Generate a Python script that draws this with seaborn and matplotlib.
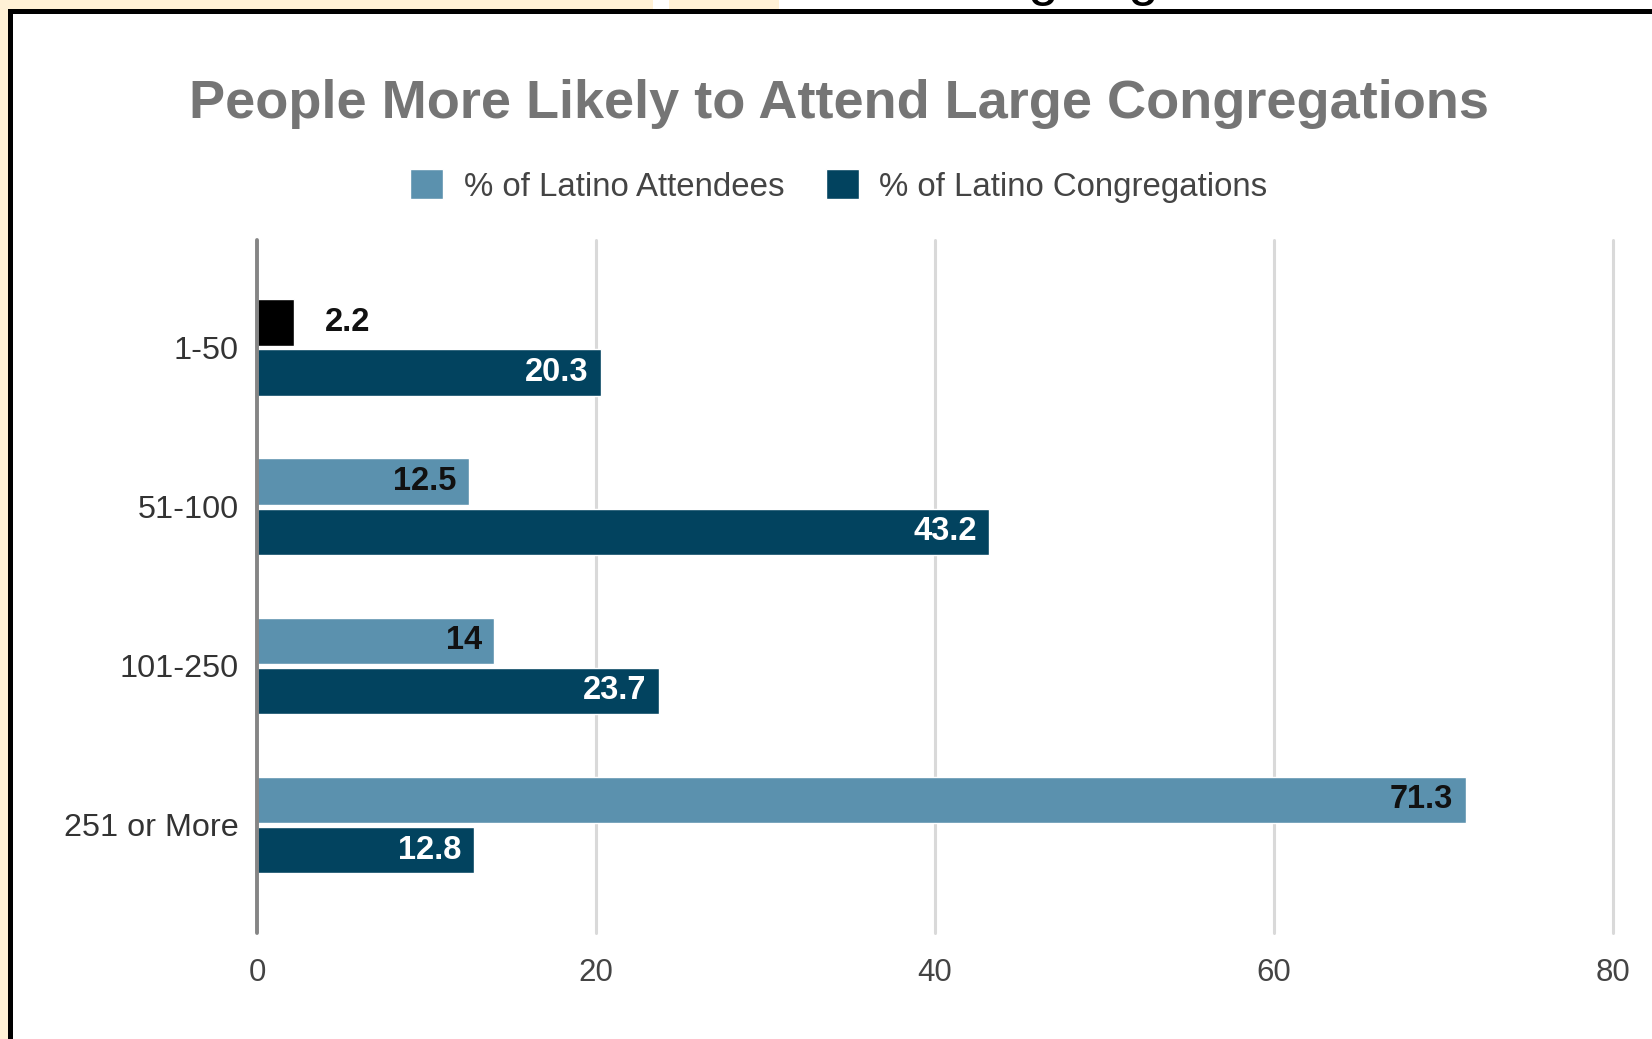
import numpy as np
import pandas as pd
import matplotlib.pyplot as plt
import seaborn as sns
from matplotlib.patches import Rectangle, Patch

sizes = ['1-50', '51-100', '101-250', '251 or More']
attendees = [2.2, 12.5, 14, 71.3]
congregations = [20.3, 43.2, 23.7, 12.8]
series_names = ['% of Latino Attendees', '% of Latino Congregations']
x_ticks = [0, 20, 40, 60, 80]

light_blue = '#5b91ae'
dark_blue = '#02435f'
W, H = 1652, 1039

sns.set_theme(style='white')
plt.rcParams['font.family'] = ['Liberation Sans', 'DejaVu Sans']

df = pd.DataFrame({
    'size': sizes * 2,
    'value': attendees + congregations,
    'series': [series_names[0]] * len(sizes) + [series_names[1]] * len(sizes),
})

fig = plt.figure(figsize=(W / 100, H / 100), dpi=100)
fig.patch.set_facecolor('white')


def px_rect(x0, y0, x1, y1, color):
    fig.patches.append(Rectangle((x0 / W, 1 - y1 / H), (x1 - x0) / W, (y1 - y0) / H,
                                 transform=fig.transFigure, color=color, lw=0, zorder=0))


# screenshot frame
cream = '#fff1d6'
px_rect(0, 0, 8, H, cream)
px_rect(0, 0, 653, 10, cream)
px_rect(669, 0, 779, 10, cream)
px_rect(8, 9, W, 14, 'black')
px_rect(8, 9, 13, H, 'black')
for gx in [1043, 1143]:
    fig.text(gx / W, 1 + 6 / H, 'g', fontsize=40, color='black', ha='center', va='baseline')

ax = fig.add_axes([257 / W, 106 / H, (1613 - 257) / W, (933 - 240) / H])
sns.barplot(data=df, y='size', x='value', hue='series', orient='h', ax=ax,
            palette=[light_blue, dark_blue], width=0.63, gap=0.07, saturation=1)

ax.containers[0][0].set_facecolor('black')

ax.set_xlim(0, 80)
ax.set_ylim(3.679, -0.677)
ax.set_xticks(x_ticks)
ax.set_xlabel('')
ax.set_ylabel('')
for s in ax.spines.values():
    s.set_visible(False)
ax.tick_params(axis='x', length=0, pad=18, labelsize=22.5, labelcolor='#444444')
ax.tick_params(axis='y', length=0, pad=13, labelsize=23.3, labelcolor='#333333')
for gx in x_ticks[1:]:
    ax.axvline(gx, color='#d9d9d9', lw=2.2, zorder=0, clip_on=False)
ax.axvline(0, color='#858585', lw=2.8, zorder=3, clip_on=False)

# data labels
for ci, cont in enumerate(ax.containers):
    for bi, bar in enumerate(cont):
        v = bar.get_width()
        yc = bar.get_y() + bar.get_height() / 2
        if ci == 0 and bi == 0:
            ax.annotate(f'{v:g}', (v, yc), xytext=(22, 0), textcoords='offset points',
                        ha='left', va='center', fontsize=23.5, fontweight='bold', color='#111111')
        else:
            c = '#111111' if ci == 0 else 'white'
            ax.annotate(f'{v:g}', (v, yc), xytext=(-9, 0), textcoords='offset points',
                        ha='right', va='center', fontsize=23.5, fontweight='bold', color=c)

ax.get_legend().remove()
handles = [Patch(facecolor=light_blue), Patch(facecolor=dark_blue)]
fig.legend(handles, series_names, loc='center', bbox_to_anchor=(839 / W, 1 - 186 / H), ncol=2,
           frameon=False, fontsize=23.8, handlelength=1.0, handleheight=1.0,
           handletextpad=0.62, columnspacing=1.25, labelcolor='#444444')

fig.text(839 / W, 1 - 104 / H, 'People More Likely to Attend Large Congregations',
         ha='center', va='center', fontsize=39, fontweight='bold', color='#757575')

fig.savefig('out.png', dpi=100)
